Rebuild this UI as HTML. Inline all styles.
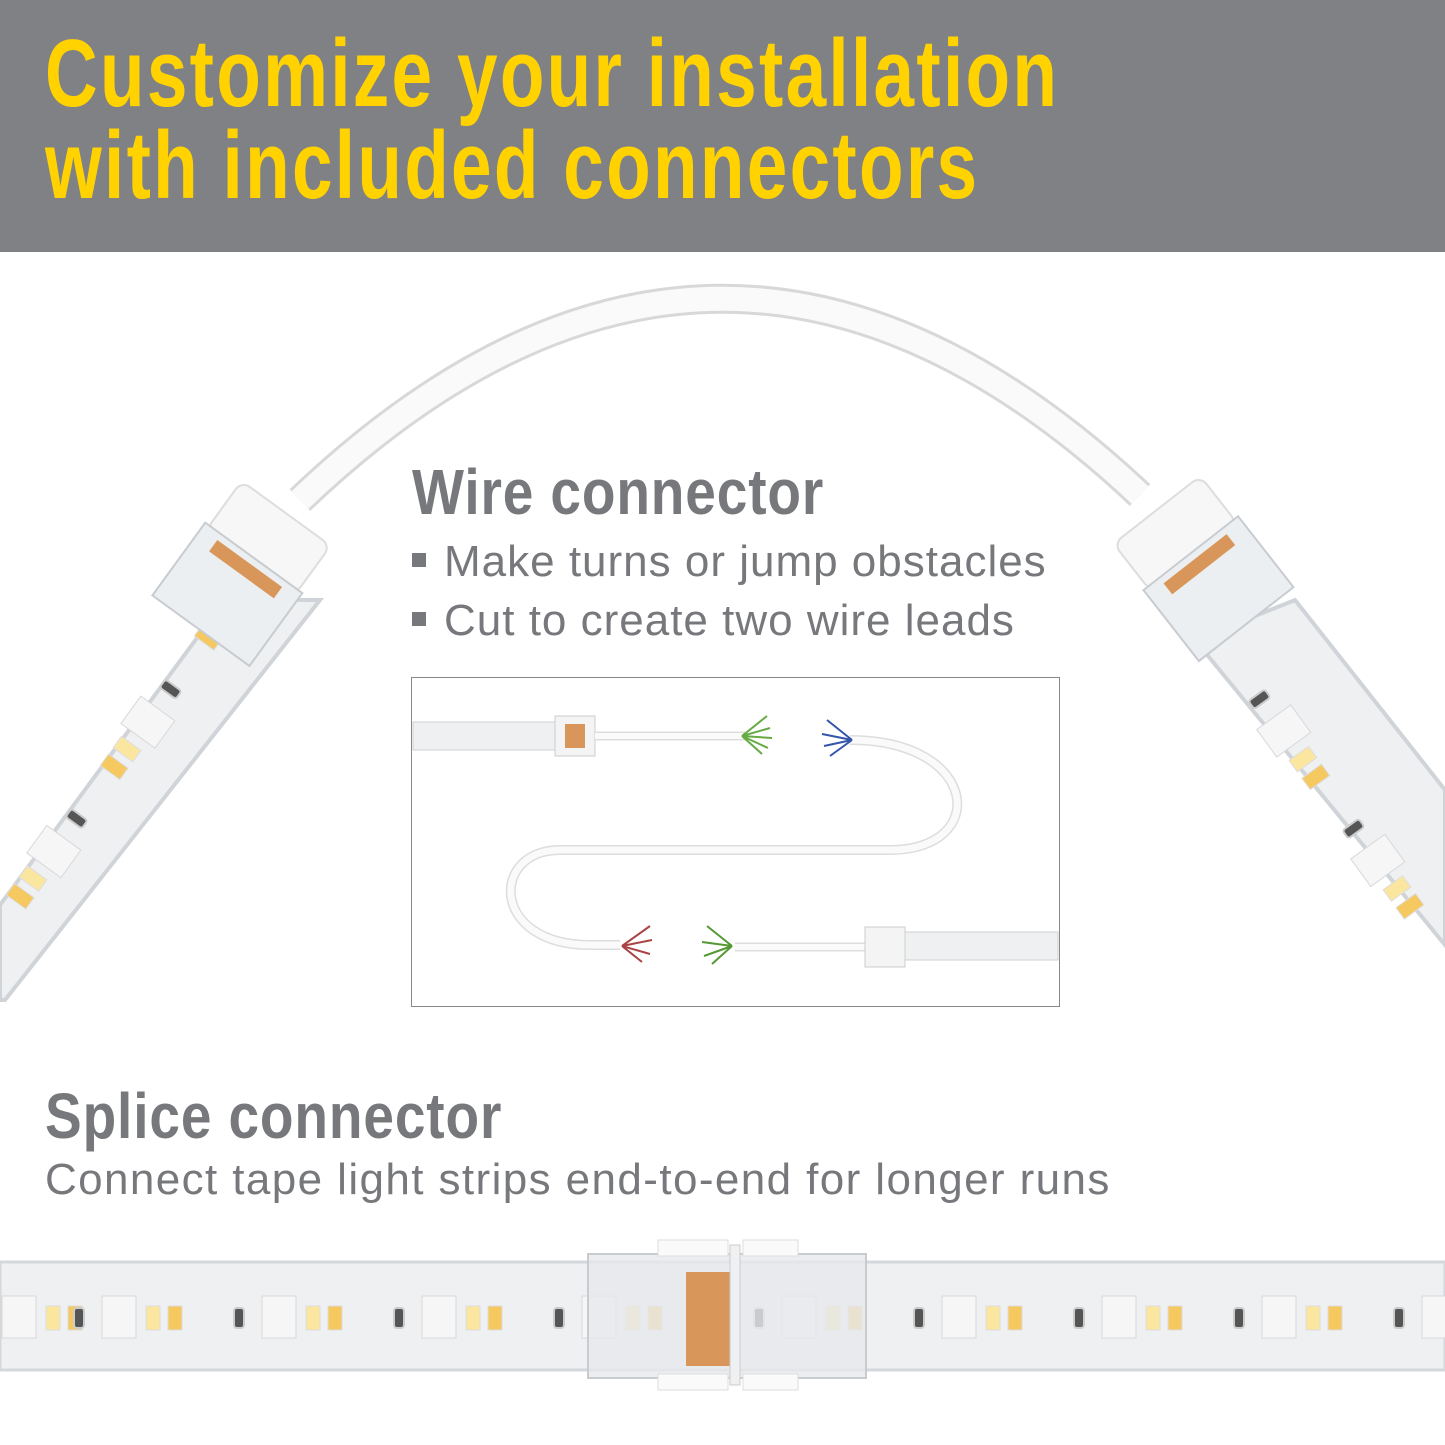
<!DOCTYPE html>
<html><head><meta charset="utf-8"><style>
*{margin:0;padding:0}
body{width:1445px;height:1445px;position:relative;background:#fff;overflow:hidden;font-family:"Liberation Sans Narrow","Liberation Sans",sans-serif}
.hdr{position:absolute;left:0;top:0;width:1445px;height:252px;background:#808184}
.t{position:absolute;left:45px;color:#ffd200;font-weight:bold;font-size:96px;letter-spacing:3px;line-height:92px;white-space:nowrap;transform:scaleX(0.76);transform-origin:0 0}
.h{position:absolute;color:#77787b;font-weight:bold;font-size:64px;line-height:64px;white-space:nowrap;letter-spacing:1px;transform:scaleX(0.86);transform-origin:0 0}
.b{position:absolute;color:#77787b;font-size:44px;line-height:44px;white-space:nowrap;letter-spacing:1px}
.sq{display:inline-block;width:14px;height:14px;background:#77787b;margin-right:18px;vertical-align:middle;position:relative;top:-4px}
svg{position:absolute;left:0;top:0}
</style></head><body>
<svg width="1445" height="1445" viewBox="0 0 1445 1445">
<defs>
<g id="led">
 <rect x="-6" y="-10" width="10" height="20" rx="3" fill="#555" stroke="#ccc" stroke-width="2"/>
 <rect x="22" y="-22" width="34" height="42" fill="#f6f6f6" stroke="#d8d8d8"/>
 <rect x="66" y="-12" width="14" height="24" fill="#fbe6a0" stroke="#ddd"/>
 <rect x="88" y="-12" width="14" height="24" fill="#f6c860" stroke="#ddd"/>
</g>
</defs>
<path d="M300,500 Q720,100 1140,495" fill="none" stroke="#d8d8d8" stroke-width="30"/>
<path d="M300,500 Q720,100 1140,495" fill="none" stroke="#fafafa" stroke-width="24"/>
<polygon points="225,600 320,600 5,1000 0,1000 0,905" fill="#eef0f2" stroke="#d0d4d8" stroke-width="4"/>
<g transform="translate(170,690) rotate(126)"><use href="#led"/><use href="#led" x="160"/><use href="#led" x="-160"/></g>
<g transform="translate(245,570) rotate(36)">
 <rect x="-55" y="-70" width="110" height="60" rx="10" fill="#f7f7f7" stroke="#ddd" stroke-width="2"/>
 <rect x="-60" y="-15" width="120" height="90" fill="#eceff1" stroke="#c8ccd0" stroke-width="2"/>
 <rect x="-40" y="-8" width="80" height="14" fill="#d9965a"/>
</g>
<polygon points="1195,640 1295,600 1445,790 1445,945" fill="#eef0f2" stroke="#d0d4d8" stroke-width="4"/>
<g transform="translate(1260,700) rotate(54)"><use href="#led"/><use href="#led" x="160"/></g>
<g transform="translate(1200,565) rotate(-38)">
 <rect x="-55" y="-70" width="110" height="60" rx="10" fill="#f7f7f7" stroke="#ddd" stroke-width="2"/>
 <rect x="-60" y="-15" width="120" height="90" fill="#eceff1" stroke="#c8ccd0" stroke-width="2"/>
 <rect x="-40" y="-8" width="80" height="14" fill="#d9965a"/>
</g>
<rect x="411.5" y="677.5" width="648" height="329" fill="#fff" stroke="#888" stroke-width="1"/>
<rect x="413" y="722" width="150" height="28" fill="#eef0f2" stroke="#d0d0d0"/>
<rect x="555" y="716" width="40" height="40" fill="#f4f4f4" stroke="#ccc"/>
<rect x="565" y="724" width="20" height="24" fill="#d9965a"/>
<path d="M595,736 L745,736" stroke="#ddd" stroke-width="9"/>
<path d="M595,736 L745,736" stroke="#fafafa" stroke-width="6"/>
<path d="M850,740 C980,740 990,850 890,850 L560,850 C490,850 490,945 590,945 L620,945" fill="none" stroke="#ddd" stroke-width="10"/>
<path d="M850,740 C980,740 990,850 890,850 L560,850 C490,850 490,945 590,945 L620,945" fill="none" stroke="#fafafa" stroke-width="7"/>
<path d="M735,947 L870,947" stroke="#ddd" stroke-width="9"/>
<path d="M735,947 L870,947" stroke="#fafafa" stroke-width="6"/>
<rect x="865" y="927" width="40" height="40" fill="#f4f4f4" stroke="#ccc"/>
<rect x="905" y="932" width="153" height="28" fill="#eef0f2" stroke="#d0d0d0"/>
<g stroke-width="2"><path d="M742,736 l25,-20 M742,736 l28,-8 M742,736 l30,2 M742,736 l26,12 M742,736 l20,18" stroke="#6a4"/>
<path d="M852,740 l-25,-20 M852,740 l-30,-6 M852,740 l-28,6 M852,740 l-22,16" stroke="#35a"/>
<path d="M622,946 l28,-20 M622,946 l30,-6 M622,946 l28,8 M622,946 l20,16" stroke="#a44"/>
<path d="M732,946 l-25,-20 M732,946 l-30,-4 M732,946 l-28,10 M732,946 l-20,18" stroke="#593"/></g>
<rect x="0" y="1262" width="1445" height="108" fill="#eef0f2" stroke="#d4d8dc" stroke-width="3"/>
<g transform="translate(0,1318)"><use href="#led" x="-20"/><use href="#led" x="80"/><use href="#led" x="240"/><use href="#led" x="400"/><use href="#led" x="560"/><use href="#led" x="760"/><use href="#led" x="920"/><use href="#led" x="1080"/><use href="#led" x="1240"/><use href="#led" x="1400"/></g>
<rect x="588" y="1254" width="278" height="124" fill="#e6e9ec" fill-opacity=".8" stroke="#c8ccd0" stroke-width="2"/>
<rect x="658" y="1240" width="70" height="16" fill="#fafafa" stroke="#ddd"/>
<rect x="743" y="1240" width="55" height="16" fill="#fafafa" stroke="#ddd"/>
<rect x="658" y="1374" width="70" height="16" fill="#fafafa" stroke="#ddd"/>
<rect x="743" y="1374" width="55" height="16" fill="#fafafa" stroke="#ddd"/>
<rect x="686" y="1272" width="50" height="94" fill="#d9965a"/>
<rect x="730" y="1245" width="10" height="140" fill="#eef0f2" stroke="#ccc"/>
</svg>
<div class="hdr"></div>
<div class="t" style="top:28px">Customize your installation</div>
<div class="t" style="top:120px">with included connectors</div>
<div class="h" style="left:412px;top:460px">Wire connector</div>
<div class="b" style="left:412px;top:540px"><span class="sq"></span>Make turns or jump obstacles</div>
<div class="b" style="left:412px;top:599px"><span class="sq"></span>Cut to create two wire leads</div>
<div class="h" style="left:45px;top:1084px">Splice connector</div>
<div class="b" style="left:45px;top:1158px;letter-spacing:1.4px">Connect tape light strips end-to-end for longer runs</div>
</body></html>
